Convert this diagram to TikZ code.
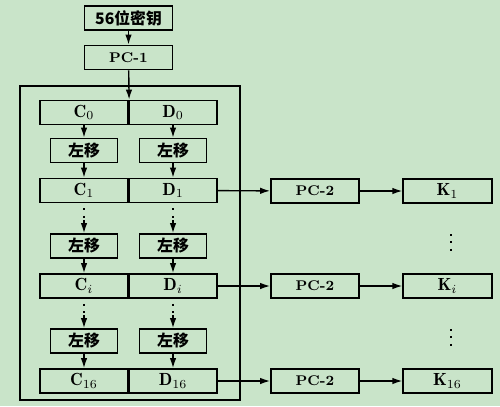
\documentclass[tikz,border=0pt]{standalone}
\usepackage{fontspec}
\newfontfamily\cjk{Noto Sans CJK SC}
\usetikzlibrary{arrows.meta}
\definecolor{bggreen}{RGB}{201,228,201}
\begin{document}
\begin{tikzpicture}[
			x=0.02cm,y=-0.02cm,
			box/.style={draw,line width=1pt,minimum height=0.48cm,inner sep=0pt,font=\footnotesize\bfseries},
			half/.style={box,minimum width=1.77cm,font=\normalsize\bfseries},
			shiftbox/.style={box,minimum width=1.34cm,font=\small\bfseries},
			wide/.style={box,minimum width=1.76cm},
			arr/.style={-{Latex[length=2mm,width=1.3mm]},line width=0.8pt},
			dotline/.style={line width=1.2pt,dash pattern=on 1.2pt off 3pt}
		]
		\fill[bggreen] (0,0) rectangle (500,406);
		\useasboundingbox (0,0) rectangle (500,406);
		% top of the chain
		\node[wide] (key) at (128.5,18) {\small\cjk 56位密钥};
		\node[wide] (pc1) at (128.5,57.5) {PC-1};
		\draw[line width=1pt] (20,86) rectangle (240,400);
		% C and D registers
		\node[half] (c0) at (84,112.5) {$\mathbf{C}_0$};
		\node[half] (d0) at (173,112.5) {$\mathbf{D}_0$};
		\node[shiftbox] (sc1) at (84,150.5) {\cjk 左移};
		\node[shiftbox] (sd1) at (173,150.5) {\cjk 左移};
		\node[half] (c1) at (84,190.5) {$\mathbf{C}_1$};
		\node[half] (d1) at (173,190.5) {$\mathbf{D}_1$};
		\coordinate (mc1) at (84,220);
		\coordinate (md1) at (173,220);
		\node[shiftbox] (sc2) at (84,246) {\cjk 左移};
		\node[shiftbox] (sd2) at (173,246) {\cjk 左移};
		\node[half] (ci) at (84,286) {$\mathbf{C}_i$};
		\node[half] (di) at (173,286) {$\mathbf{D}_i$};
		\coordinate (mci) at (84,315);
		\coordinate (mdi) at (173,315);
		\node[shiftbox] (sc3) at (84,341) {\cjk 左移};
		\node[shiftbox] (sd3) at (173,341) {\cjk 左移};
		\node[half] (c16) at (84,381) {$\mathbf{C}_{16}$};
		\node[half] (d16) at (173,381) {$\mathbf{D}_{16}$};
		% subkeys
		\node[wide] (p1) at (315,191) {PC-2};
		\node[half] (k1) at (447.5,191) {$\mathbf{K}_1$};
		\node[wide] (pi) at (315,286) {PC-2};
		\node[half] (ki) at (447.5,286) {$\mathbf{K}_i$};
		\node[wide] (p16) at (315,381) {PC-2};
		\node[half] (k16) at (447.5,381) {$\mathbf{K}_{16}$};
		\coordinate (ka1) at (451,234);
		\coordinate (kb1) at (451,252);
		\coordinate (ka2) at (451,329);
		\coordinate (kb2) at (451,347);
		% connectors
		\draw[arr] (key) -- (pc1);
		\draw[arr] (pc1) -- (c0.north east);
		\foreach \a/\b in {c0/sc1,d0/sd1,sc1/c1,sd1/d1,mc1/sc2,md1/sd2,sc2/ci,sd2/di,mci/sc3,mdi/sd3,sc3/c16,sd3/d16}
			\draw[arr] (\a) -- (\b);
		\foreach \a/\b in {c1/mc1,d1/md1,ci/mci,di/mdi}
			\draw[dotline] (\a.south) ++(0,5) -- (\b);
		\draw[dotline] (ka1) -- (kb1);
		\draw[dotline] (ka2) -- (kb2);
		\foreach \a/\b in {d1/p1,di/pi,d16/p16,p1/k1,pi/ki,p16/k16}
			\draw[arr] (\a) -- (\b);
	\end{tikzpicture}
\end{document}
